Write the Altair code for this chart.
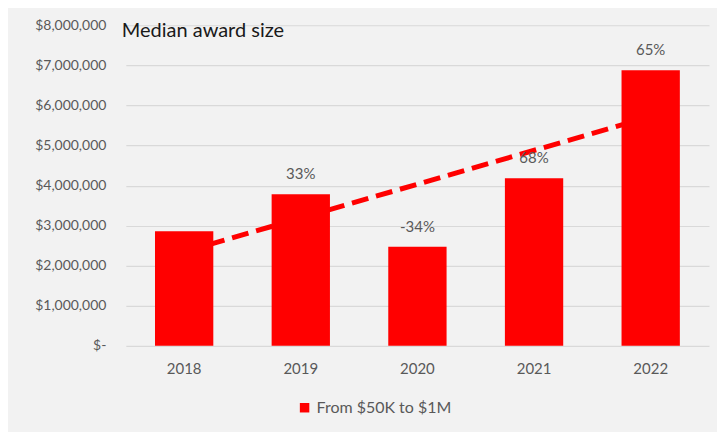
import altair as alt
import pandas as pd

years = [2018, 2019, 2020, 2021, 2022]
values = [2860000, 3780000, 2470000, 4180000, 6880000]
change_labels = ["", "33%", "-34%", "68%", "65%"]
series_name = "From $50K to $1M"
y_ticks = [0, 1000000, 2000000, 3000000, 4000000, 5000000, 6000000, 7000000, 8000000]

df = pd.DataFrame({
    "year": years,
    "value": values,
    "label": change_labels,
    "series": [series_name] * len(years),
})

FONT = "Lato"
RED = "#ff0000"
GREY = "#595959"
NBSP = "\u00a0"

x_enc = alt.X("year:O", title=None,
              scale=alt.Scale(paddingInner=0.5, paddingOuter=0.25),
              axis=alt.Axis(labelAngle=0, ticks=False, domain=False,
                            labelPadding=16, labelFontSize=15, labelColor=GREY,
                            labelFont=FONT))
y_enc = alt.Y("value:Q", title=None,
              scale=alt.Scale(domain=[0, 8000000]),
              axis=alt.Axis(values=y_ticks, ticks=False, domain=False,
                            gridColor="#d9d9d9", gridWidth=1.2,
                            labelPadding=20, labelFontSize=14, labelColor=GREY,
                            labelFont=FONT,
                            labelExpr=f"datum.value == 0 ? '$-{NBSP}{NBSP}' : '$' + format(datum.value, ',')"))

base = alt.Chart(df)

bars = base.mark_bar().encode(
    x=x_enc,
    y=y_enc,
    color=alt.Color("series:N", scale=alt.Scale(range=[RED]),
                    legend=alt.Legend(title=None, orient="none", legendX=171, legendY=375,
                                      symbolType="square", symbolSize=90,
                                      labelFontSize=16, labelColor=GREY, labelFont=FONT,
                                      symbolStrokeWidth=0)),
)

trend = base.transform_regression("year", "value", method="linear").mark_line(
    color=RED, strokeWidth=5, strokeDash=[17, 8]
).encode(x="year:O", y="value:Q")

texts = base.mark_text(baseline="middle", dy=-20, fontSize=15, color=GREY, font=FONT).encode(
    x="year:O", y="value:Q", text="label:N"
)

chart = alt.layer(bars, trend, texts).properties(
    width=584,
    height=321,
    background="#f2f2f2",
    padding={"left": 118, "top": 17, "right": 8, "bottom": 86},
    autosize=alt.AutoSizeParams(type="none"),
    title=alt.TitleParams("Median award size", anchor="start", frame="group",
                          fontSize=20, fontWeight="normal", color="#1a1a1a", font=FONT,
                          dx=-4, dy=23, offset=0),
).configure_view(stroke=None)

chart.save("out.html", embed_options={"renderer": "svg", "actions": False})
